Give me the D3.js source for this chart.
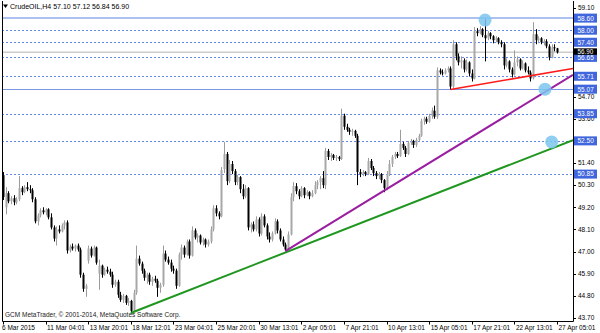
<!DOCTYPE html>
<html>
<head>
<meta charset="utf-8">
<script src="https://cdn.jsdelivr.net/npm/d3@7"></script>
<style>
  body { margin: 0; background: #fff; }
  svg { display: block; font-family: "Liberation Sans", Arial, sans-serif; }
</style>
</head>
<body>
<div id="chart"></div>
<script>
const symbol = "CrudeOIL,H4";

// H4 bars, 6 Mar 2015 .. 27 Apr 2015 05:01
const barOpen = [
  50.80,49.20,49.90,49.50,49.65,49.45,49.60,50.15,49.95,50.20,
  50.10,50.05,49.60,48.50,48.80,49.05,48.95,49.10,48.70,48.20,
  47.65,48.10,48.00,48.30,48.45,47.05,47.25,47.15,47.30,47.10,
  45.85,45.15,46.55,47.15,46.80,47.20,45.90,46.30,45.85,46.10,
  46.00,45.85,45.35,45.50,44.85,44.60,44.80,44.45,44.55,44.05,
  44.95,46.65,46.40,46.05,45.70,45.85,45.50,45.65,45.55,45.20,
  45.35,46.90,46.60,46.45,46.15,46.05,45.30,46.85,47.20,46.85,
  47.50,46.80,48.05,47.70,47.80,47.45,47.60,47.35,47.50,48.10,
  49.15,48.90,48.75,51.10,51.85,50.50,51.35,51.00,50.45,50.70,
  50.10,49.75,50.15,48.20,48.35,48.10,48.60,47.90,48.75,48.30,
  47.75,47.60,47.90,48.50,48.05,47.60,47.35,47.10,47.85,49.70,
  50.25,50.00,49.75,50.15,49.80,49.95,49.75,49.90,50.30,50.45,
  50.65,50.30,52.00,51.70,51.80,51.65,51.70,51.60,53.75,53.20,
  53.05,52.95,53.00,52.75,50.95,50.85,50.95,50.85,51.50,51.15,
  50.90,50.75,50.85,50.55,50.15,50.85,51.35,51.70,51.85,51.75,
  52.35,52.15,51.85,52.40,52.50,52.30,52.55,52.75,53.50,53.60,
  53.45,53.75,54.00,53.70,56.00,55.90,55.85,56.00,56.10,55.20,
  57.30,56.70,56.40,56.50,56.05,56.40,55.85,55.60,57.95,57.85,
  58.05,57.75,57.60,57.85,57.70,57.50,57.60,57.40,57.30,56.25,
  56.45,56.05,55.80,56.40,56.55,56.10,56.35,56.00,55.90,55.60,
  57.80,57.50,57.60,57.40,57.45,57.20,56.65,57.15,57.10
];
const barHigh = [
  50.95,50.20,50.00,49.75,49.80,49.70,50.75,50.25,50.30,50.45,
  50.30,50.15,49.70,48.90,49.15,49.20,49.15,49.15,48.90,48.30,
  48.25,48.30,48.40,48.55,48.55,47.35,47.40,47.35,47.40,47.20,
  45.95,45.40,47.30,47.25,47.30,47.25,46.60,46.35,46.20,46.25,
  46.15,46.00,45.60,45.60,45.00,44.90,44.85,44.70,44.60,45.10,
  47.30,46.80,46.50,46.15,45.95,45.95,45.75,45.80,45.65,45.45,
  47.30,47.05,46.75,46.60,46.30,46.15,46.95,47.35,47.30,47.60,
  47.60,48.25,48.15,47.90,47.85,47.70,47.65,47.60,48.25,49.30,
  49.30,49.00,51.20,52.45,51.95,51.55,51.50,51.10,50.80,50.75,
  50.35,50.30,50.20,48.45,48.50,48.75,48.70,48.90,48.85,48.40,
  47.95,48.00,48.65,48.60,48.15,47.75,47.45,48.00,49.90,50.45,
  50.40,50.10,50.25,50.20,50.05,50.00,50.05,50.50,50.55,50.75,
  51.00,52.15,52.10,51.90,51.85,51.80,51.75,54.10,53.85,53.35,
  53.15,53.10,53.05,52.85,51.10,51.05,51.00,51.65,51.60,51.25,
  51.00,50.95,50.90,50.60,51.00,51.55,51.80,51.95,51.95,53.05,
  52.45,52.25,52.50,52.60,52.55,52.65,52.85,53.60,53.70,53.70,
  53.85,54.15,54.25,56.15,56.10,56.05,56.10,56.20,56.20,57.50,
  57.40,56.85,56.70,56.60,56.55,56.45,56.05,58.15,58.10,58.20,
  58.10,58.55,57.95,57.90,57.75,57.70,57.65,57.50,57.40,56.60,
  56.50,56.15,57.00,56.70,56.60,56.50,56.40,56.20,56.00,58.40,
  58.05,57.70,57.65,57.55,57.55,57.30,57.30,57.30,57.12
];
const barLow = [
  49.56,48.85,49.40,49.35,49.30,49.35,49.50,49.80,49.90,50.00,
  49.90,49.45,48.40,48.30,48.70,48.85,48.80,48.60,48.10,47.50,
  47.30,47.90,47.95,48.10,46.90,46.95,47.05,47.00,47.00,45.70,
  45.00,44.75,46.40,46.70,46.75,46.35,45.10,45.70,45.80,45.90,
  45.75,45.20,45.25,44.70,44.50,44.45,44.35,44.30,43.95,43.98,
  44.85,46.30,45.90,45.55,45.40,45.35,45.30,45.45,44.75,44.95,
  45.25,46.50,46.35,46.00,45.90,45.15,45.25,46.60,46.70,46.80,
  46.65,46.75,47.60,47.45,47.35,47.30,47.20,47.25,47.40,48.00,
  48.75,48.60,48.70,50.90,50.30,50.40,50.85,50.30,50.30,49.90,
  49.60,49.65,48.05,47.95,48.00,48.00,47.75,47.80,48.20,47.60,
  47.45,47.50,47.85,47.90,47.50,47.25,47.02,47.05,47.80,49.50,
  49.85,49.60,49.70,49.65,49.75,49.60,49.70,49.85,50.10,50.10,
  50.15,50.10,51.55,51.50,51.55,51.50,51.50,51.55,53.05,52.95,
  52.80,52.75,52.65,50.30,50.70,50.75,50.75,50.80,51.05,50.75,
  50.60,50.60,50.40,49.95,50.05,50.75,51.20,51.60,51.65,51.70,
  52.05,51.70,51.80,52.30,52.15,52.20,52.45,52.70,53.30,53.35,
  53.40,53.60,53.60,53.60,55.80,55.75,55.80,55.90,55.05,55.10,
  56.50,56.25,56.10,55.90,55.95,55.70,55.45,55.55,57.70,57.80,
  57.65,56.45,57.50,57.55,57.35,57.40,57.30,57.15,56.05,56.15,
  55.90,55.65,55.75,56.20,56.00,56.05,55.90,55.80,55.45,55.55,
  57.30,57.35,57.30,57.25,57.10,56.50,56.60,56.95,56.84
];
const barClose = [
  49.71,49.90,49.50,49.65,49.45,49.60,50.15,49.95,50.20,50.10,
  50.05,49.60,48.50,48.80,49.05,48.95,49.10,48.70,48.20,47.65,
  48.10,48.00,48.30,48.45,47.05,47.25,47.15,47.30,47.10,45.85,
  45.15,45.30,47.15,46.80,47.20,46.45,46.30,45.85,46.10,46.00,
  45.85,45.35,45.50,44.85,44.60,44.80,44.45,44.55,44.05,44.95,
  46.65,46.40,46.05,45.70,45.85,45.50,45.65,45.55,45.20,45.35,
  46.90,46.60,46.45,46.15,46.05,45.30,46.85,47.20,46.85,47.50,
  46.80,48.05,47.70,47.80,47.45,47.60,47.35,47.50,48.10,49.15,
  48.90,48.75,51.05,51.85,50.50,51.35,51.00,50.45,50.70,50.10,
  49.75,50.15,48.20,48.35,48.10,48.60,47.90,48.75,48.30,47.75,
  47.60,47.90,48.50,48.05,47.60,47.35,47.10,47.85,49.70,50.25,
  50.00,49.75,50.15,49.80,49.95,49.75,49.90,50.30,50.45,50.65,
  50.30,52.00,51.70,51.80,51.65,51.70,51.60,53.75,53.20,53.05,
  52.95,53.00,52.75,50.95,50.85,50.95,50.85,51.50,51.15,50.90,
  50.75,50.85,50.55,50.15,50.85,51.35,51.70,51.85,51.75,52.35,
  52.15,51.85,52.40,52.50,52.30,52.55,52.75,53.50,53.60,53.45,
  53.75,54.00,53.70,56.00,55.90,55.85,56.00,56.10,55.20,57.30,
  56.70,56.40,56.50,56.05,56.40,55.85,55.60,57.95,57.85,58.05,
  57.75,57.60,57.85,57.70,57.50,57.60,57.40,57.30,56.25,56.45,
  56.05,55.80,56.40,56.55,56.10,56.35,56.00,55.90,55.60,57.80,
  57.50,57.60,57.40,57.45,57.20,56.65,57.15,57.10,56.90
];

const dateLabels = ["6 Mar 2015","11 Mar 04:01","13 Mar 20:01","18 Mar 12:01","23 Mar 04:01",
  "25 Mar 20:01","30 Mar 13:01","2 Apr 05:01","7 Apr 21:01","10 Apr 13:01",
  "15 Apr 05:01","17 Apr 21:01","22 Apr 13:01","27 Apr 05:01"];
const dateLabelBars = [0,16,32,48,64,80,96,112,128,144,160,176,192,208];

const priceTicks = [59.10,58.00,56.90,55.80,54.70,53.60,52.50,51.40,50.30,49.20,48.10,47.00,45.90,44.80,43.70];
const dottedLevels = [58.00,57.40,56.65,55.71,53.85,52.50,50.85];
const solidLevels = [58.60,55.07];
const bidPrice = 56.90;

// trend lines: [bar, price] anchors
const trendNames = ["green","purple","red"];
const trendFrom = [[48,43.95],[106,47.02],[168,55.05]];
const trendTo   = [[214,52.54],[214,55.78],[214,56.10]];

// marker circles: [bar, price]
const markers = [[181,58.50],[203.5,55.07],[206,52.45]];

const width = 600, height = 333;
const plotLeft = 2, plotRight = 573, plotTop = 1, plotBottom = 321;

const trendColor = {green: "#1f961f", purple: "#9a1fa0", red: "#ff1a1a"};

const svg = d3.select("#chart").append("svg")
    .attr("width", width)
    .attr("height", height);

const x = d3.scaleLinear().domain([0, 208]).range([3, 557]);
const y = d3.scaleLinear().domain([43.55, 59.45]).range([plotBottom, plotTop]);

svg.append("defs").append("clipPath").attr("id", "plot")
  .append("rect")
    .attr("x", plotLeft).attr("y", plotTop)
    .attr("width", plotRight - plotLeft).attr("height", plotBottom - plotTop);

const plot = svg.append("g").attr("clip-path", "url(#plot)");

// horizontal levels
plot.selectAll(".dotted").data(dottedLevels).enter().append("line")
    .attr("x1", plotLeft).attr("x2", plotRight)
    .attr("y1", d => Math.round(y(d)) + 0.5).attr("y2", d => Math.round(y(d)) + 0.5)
    .style("stroke", "#6488e6").style("stroke-width", 1).style("stroke-dasharray", "2,2");

plot.append("line")
    .attr("x1", plotLeft).attr("x2", plotRight)
    .attr("y1", y(solidLevels[0])).attr("y2", y(solidLevels[0]))
    .style("stroke", "#adc0f2").style("stroke-width", 2);

plot.append("line")
    .attr("x1", plotLeft).attr("x2", plotRight)
    .attr("y1", Math.round(y(solidLevels[1])) + 0.5).attr("y2", Math.round(y(solidLevels[1])) + 0.5)
    .style("stroke", "#7b97e4").style("stroke-width", 1);

plot.append("line")
    .attr("x1", plotLeft).attr("x2", plotRight)
    .attr("y1", y(bidPrice)).attr("y2", y(bidPrice))
    .style("stroke", "#cccccc").style("stroke-width", 1.5);

// candles
const bars = d3.range(barOpen.length);
const bull = i => barClose[i] >= barOpen[i];

plot.selectAll(".wick").data(bars).enter().append("line")
    .attr("x1", i => Math.round(x(i)) + 0.5).attr("x2", i => Math.round(x(i)) + 0.5)
    .attr("y1", i => y(barHigh[i])).attr("y2", i => y(barLow[i]))
    .style("stroke", i => bull(i) ? "#9c9c9c" : "#000")
    .style("stroke-width", 1);

plot.selectAll(".body").data(bars).enter().append("rect")
    .attr("x", i => Math.round(x(i)) - 0.5)
    .attr("width", 2)
    .attr("y", i => y(Math.max(barOpen[i], barClose[i])))
    .attr("height", i => Math.max(1, Math.abs(y(barOpen[i]) - y(barClose[i]))))
    .style("fill", i => bull(i) ? "#a8a8a8" : "#000");

// trend lines
plot.selectAll(".trend").data(trendNames).enter().append("line")
    .attr("x1", (d, k) => x(trendFrom[k][0])).attr("y1", (d, k) => y(trendFrom[k][1]))
    .attr("x2", (d, k) => x(trendTo[k][0])).attr("y2", (d, k) => y(trendTo[k][1]))
    .style("stroke", d => trendColor[d])
    .style("stroke-width", d => d == "red" ? 1.6 : 2);

// markers
plot.selectAll(".marker").data(markers).enter().append("circle")
    .attr("cx", d => x(d[0])).attr("cy", d => y(d[1]))
    .attr("r", 6.5)
    .style("fill", "#7cc6ee").style("opacity", 0.85);

// frame
svg.append("path")
    .attr("d", `M${plotLeft + 0.5},${plotTop}V${plotBottom + 0.5}H${plotRight + 0.5}V${plotTop}`)
    .style("fill", "none").style("stroke", "#000").style("stroke-width", 1);

// level price tags (drawn over the regular scale)
const tags = dottedLevels.concat(solidLevels);
const tagged = tags.concat([bidPrice]);

// right price axis; labels that sit right under a tag are hidden by it
const yAxis = svg.append("g");
yAxis.selectAll(".tick").data(priceTicks).enter().append("line")
    .attr("x1", plotRight).attr("x2", plotRight + 3)
    .attr("y1", d => Math.round(y(d)) + 0.5).attr("y2", d => Math.round(y(d)) + 0.5)
    .style("stroke", "#000");
yAxis.selectAll(".tlabel")
    .data(priceTicks.filter(d => !tagged.some(t => Math.abs(y(t) - y(d)) < 4)))
    .enter().append("text")
    .attr("x", plotRight + 5).attr("y", d => y(d) + 2.3)
    .style("font-size", "6.5px").style("fill", "#000")
    .text(d => d.toFixed(2));

const tag = svg.selectAll(".tag").data(tags).enter().append("g");
tag.append("rect")
    .attr("x", plotRight + 1).attr("width", 23)
    .attr("y", d => y(d) - 4.5).attr("height", 9)
    .style("fill", "#3f66dd");
tag.append("text")
    .attr("x", plotRight + 4.5).attr("y", d => y(d) + 2.4)
    .style("font-size", "6.5px").style("fill", "#fff")
    .text(d => d.toFixed(2));

const bidTag = svg.append("g");
bidTag.append("rect")
    .attr("x", plotRight + 1).attr("width", 23)
    .attr("y", y(bidPrice) - 4).attr("height", 6.5)
    .style("fill", "#000");
bidTag.append("text")
    .attr("x", plotRight + 4.5).attr("y", y(bidPrice) + 1.9)
    .style("font-size", "6.3px").style("fill", "#fff")
    .text(bidPrice.toFixed(2));

// bottom time axis
const xAxis = svg.append("g");
xAxis.selectAll(".tick").data(dateLabelBars).enter().append("line")
    .attr("x1", i => Math.round(x(i)) + 0.5).attr("x2", i => Math.round(x(i)) + 0.5)
    .attr("y1", plotBottom).attr("y2", plotBottom + 3.5)
    .style("stroke", "#000");
xAxis.selectAll(".xlabel").data(dateLabels).enter().append("text")
    .attr("x", (d, k) => x(dateLabelBars[k]) + (k == 0 ? -1 : 1.5))
    .attr("y", 330)
    .style("font-size", "6.5px").style("fill", "#000")
    .text(d => d);

// title and watermark
const last = barOpen.length - 1;
svg.append("path")
    .attr("d", "M3,4.5L8,4.5L5.5,8Z")
    .style("fill", "#000");
svg.append("text")
    .attr("x", 10).attr("y", 8.5)
    .style("font-size", "7px").style("fill", "#000")
    .text(`${symbol}  ${barOpen[last].toFixed(2)} ${barHigh[last].toFixed(2)} ${barLow[last].toFixed(2)} ${barClose[last].toFixed(2)}`);

svg.append("text")
    .attr("x", 5).attr("y", 317)
    .style("font-size", "6.5px").style("fill", "#222")
    .text("GCM MetaTrader, \u00a9 2001-2014, MetaQuotes Software Corp.");
</script>
</body>
</html>
